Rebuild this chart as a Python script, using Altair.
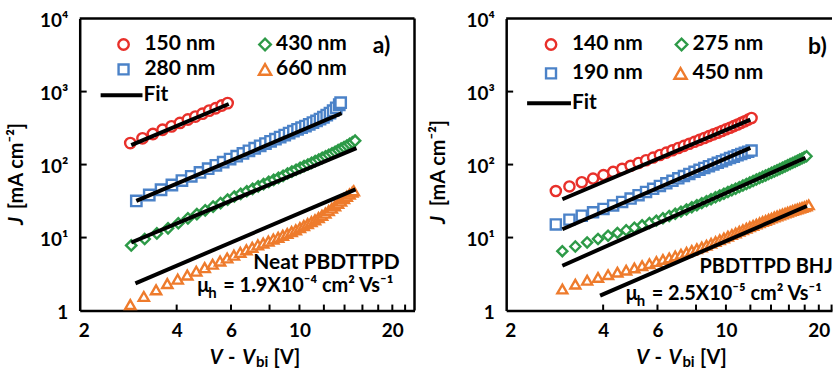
import altair as alt
import pandas as pd

FONT = "Lato"
INK = "#000000"

# ---------------- panel a: neat PBDTTPD ----------------
A_LABELS = ["150 nm", "280 nm", "430 nm", "660 nm"]

A150_V = [2.83, 3.10, 3.35, 3.60, 3.85, 4.10, 4.35, 4.60, 4.85, 5.10, 5.35, 5.60, 5.85]
A150_J = [197, 229, 262, 300, 334, 372, 415, 455, 498, 548, 592, 645, 695]

A280_V = [2.96, 3.26, 3.56, 3.86, 4.16, 4.46, 4.76, 5.06, 5.36, 5.66, 5.96, 6.26, 6.56,
          6.86, 7.16, 7.46, 7.76, 8.06, 8.36, 8.66, 8.96, 9.26, 9.56, 9.86, 10.16, 10.46,
          10.76, 11.06, 11.36, 11.66, 11.96, 12.26, 12.56, 12.86, 13.16, 13.46, 13.6]
A280_J = [31.8, 38.3, 45.2, 52.5, 60.4, 69.0, 78.1, 87.7, 97.7, 108, 119, 130.5, 142.3,
          154.6, 167.4, 180.7, 194, 208, 223, 238, 254, 270, 287, 304, 320, 337,
          356, 376, 397, 420, 445, 476, 508, 548, 599, 660, 704]

A430_V = [2.85, 3.15, 3.45, 3.75, 4.05, 4.35, 4.65, 4.95, 5.25, 5.55, 5.85, 6.15, 6.45,
          6.75, 7.05, 7.35, 7.65, 7.95, 8.25, 8.55, 8.85, 9.15, 9.45, 9.75, 10.05, 10.35,
          10.65, 10.95, 11.25, 11.55, 11.85, 12.15, 12.45, 12.75, 13.05, 13.35, 13.65,
          13.95, 14.25, 14.55, 14.85, 15.15]
A430_J = [7.8, 9.55, 11.4, 13.4, 15.7, 18.3, 20.9, 23.6, 26.5, 29.7, 33.0, 36.5, 39.7,
          43.1, 46.6, 50.2, 54.0, 57.9, 61.8, 65.9, 70.1, 75.5, 80.2, 85.0, 90.0, 95.1,
          100.3, 105.7, 111.2, 117.1, 123.2, 129.4, 135.9, 142.8, 149.9, 157.3, 165.1,
          173.3, 182.2, 191.7, 201.7, 212.4]

A660_V = [2.83, 3.13, 3.43, 3.73, 4.03, 4.33, 4.63, 4.93, 5.23, 5.53, 5.83, 6.13, 6.43,
          6.73, 7.03, 7.33, 7.63, 7.93, 8.23, 8.53, 8.83, 9.13, 9.43, 9.73, 10.03, 10.33,
          10.63, 10.93, 11.23, 11.53, 11.83, 12.13, 12.43, 12.73, 13.03, 13.33, 13.63,
          13.93, 14.23, 14.53, 14.83, 15.0]
A660_J = [1.21, 1.56, 1.92, 2.34, 2.69, 3.07, 3.46, 3.87, 4.31, 4.77, 5.25, 5.74, 6.26,
          6.80, 7.35, 7.93, 8.42, 8.93, 9.55, 10.07, 10.72, 11.38, 12.07, 12.77, 13.65,
          14.56, 15.51, 16.50, 17.52, 18.80, 20.16, 21.58, 23.35, 25.23, 27.23, 29.37,
          31.65, 34.08, 36.66, 39.40, 41.84, 43.7]

# SCLC fits (end points of each power-law line)
A_FIT_V = [[2.85, 5.9], [2.96, 13.7], [2.85, 15.3], [2.94, 15.2]]
A_FIT_J = [[185, 676], [31.8, 505], [8.55, 168], [2.36, 45.8]]

# ---------------- panel b: PBDTTPD BHJ ----------------
B_LABELS = ["140 nm", "190 nm", "275 nm", "450 nm"]

B140_V = [2.81, 3.11, 3.41, 3.71, 4.01, 4.31, 4.61, 4.91, 5.21, 5.51, 5.81, 6.11, 6.41,
          6.71, 7.01, 7.31, 7.61, 7.91, 8.21, 8.51, 8.81, 9.11, 9.41, 9.71, 10.01, 10.31,
          10.61, 10.91, 11.21, 11.51, 11.81, 12.11]
B140_J = [43.4, 50.2, 57.3, 64.3, 71.7, 79.4, 87.5, 96.2, 105.2, 114.7, 124.7, 135.3,
          145.9, 157.0, 168.7, 180.5, 192.7, 205.0, 218.2, 231.7, 245.3, 259.2, 273.4,
          288.5, 304.0, 319.8, 336.6, 353.8, 372.3, 392.0, 412.6, 434.5]

B190_V = [2.81, 3.11, 3.41, 3.71, 4.01, 4.31, 4.61, 4.91, 5.21, 5.51, 5.81, 6.11, 6.41,
          6.71, 7.01, 7.31, 7.61, 7.91, 8.21, 8.51, 8.81, 9.11, 9.41, 9.71, 10.01, 10.31,
          10.61, 10.91, 11.21, 11.51, 11.81, 12.11]
B190_J = [15.15, 17.61, 19.92, 22.19, 24.71, 27.56, 30.81, 34.17, 38.10, 42.21, 46.53,
          51.02, 55.41, 59.98, 64.71, 69.54, 74.49, 79.59, 84.79, 90.0, 95.2, 100.5,
          105.9, 111.4, 116.9, 122.6, 128.3, 133.7, 139.3, 144.8, 150.2, 155.4]

B275_V = [2.95, 3.25, 3.55, 3.85, 4.15, 4.45, 4.75, 5.05, 5.35, 5.65, 5.95, 6.25, 6.55,
          6.85, 7.15, 7.45, 7.75, 8.05, 8.35, 8.65, 8.95, 9.25, 9.55, 9.85, 10.15, 10.45,
          10.75, 11.05, 11.35, 11.65, 11.95, 12.25, 12.55, 12.85, 13.15, 13.45, 13.75,
          14.05, 14.35, 14.65, 14.95, 15.25, 15.55, 15.85, 16.15, 16.45, 16.75, 17.05,
          17.35, 17.65, 17.95, 18.25]
B275_J = [6.51, 7.55, 8.57, 9.57, 10.60, 11.59, 12.60, 13.62, 14.71, 15.84, 17.06, 18.38,
          19.74, 21.18, 22.69, 24.29, 25.98, 27.77, 29.61, 31.57, 33.57, 35.63, 37.76,
          39.92, 42.14, 44.40, 46.71, 49.09, 51.62, 54.20, 56.87, 59.57, 62.33, 65.16,
          68.04, 70.99, 74.0, 77.08, 80.4, 83.7, 87.2, 90.7, 94.3, 98.0, 101.7, 105.6,
          109.4, 113.4, 117.5, 121.6, 125.8, 130.1]

B450_V = [2.95, 3.25, 3.55, 3.85, 4.15, 4.45, 4.75, 5.05, 5.35, 5.65, 5.95, 6.25, 6.55,
          6.85, 7.15, 7.45, 7.75, 8.05, 8.35, 8.65, 8.95, 9.25, 9.55, 9.85, 10.15, 10.45,
          10.75, 11.05, 11.35, 11.65, 11.95, 12.25, 12.55, 12.85, 13.15, 13.45, 13.75,
          14.05, 14.35, 14.65, 14.95, 15.25, 15.55, 15.85, 16.15, 16.45, 16.75, 17.05,
          17.35, 17.65, 17.95, 18.25, 18.55]
B450_J = [1.97, 2.30, 2.60, 2.84, 3.10, 3.35, 3.58, 3.83, 4.11, 4.39, 4.69, 5.01, 5.27,
          5.59, 5.92, 6.28, 6.65, 7.03, 7.43, 7.87, 8.34, 8.82, 9.33, 9.87, 10.43, 11.0,
          11.59, 12.19, 12.81, 13.43, 14.05, 14.66, 15.29, 15.93, 16.58, 17.20, 17.83,
          18.47, 19.11, 19.75, 20.35, 21.02, 21.63, 22.25, 22.87, 23.49, 24.11, 24.68,
          25.25, 25.81, 26.38, 27.01, 28.07]

B_FIT_V = [[2.95, 12.0], [2.95, 12.0], [2.95, 18.1], [3.91, 18.3]]
B_FIT_J = [[33.5, 414], [13.0, 169], [4.11, 124], [1.60, 27.1]]

# ---------------- axes ----------------
X_LABEL_VALUES = [2, 4, 6, 10, 20]
X_INNER_TICKS = [4, 6, 8, 10, 12, 14, 16, 18, 20, 22]
Y_TICKS = [1, 10, 100, 1000, 10000]
Y_TICK_TEXT = ["1", "10\u00b9", "10\u00b2", "10\u00b3", "10\u2074"]
Y_INNER_TICKS = [10, 100, 1000]

COLORS = ["#E8302A", "#4B82C8", "#2D9A47", "#EE7B2C"]
SHAPES = ["circle", "square", "diamond", "triangle-up"]
SIZES = [110, 100, 135, 150]

H = 293
Y_DOMAIN = [1, 10000]
ONE = pd.DataFrame({"k": [0]})

y_label_expr = " : ".join(
    f"datum.value == {v} ? '{t}'" for v, t in zip(Y_TICKS[:-1], Y_TICK_TEXT[:-1])
) + f" : '{Y_TICK_TEXT[-1]}'"


def text(s, x, y, size=20, italic=False, align="left", angle=None, clip=False,
         baseline="alphabetic"):
    props = dict(text=s, font=FONT, fontSize=size, fontWeight="bold", color=INK,
                 align=align, baseline=baseline)
    if italic:
        props["fontStyle"] = "italic"
    if angle is not None:
        props["angle"] = angle
    if clip:
        props["clip"] = True
    return alt.Chart(ONE).mark_text(**props).encode(x=alt.value(x), y=alt.value(y))


def series_frame(labels, vs, js):
    rows = []
    for lab, v, j in zip(labels, vs, js):
        rows += [{"V": a, "J": b, "s": lab} for a, b in zip(v, j)]
    return pd.DataFrame(rows)


def fit_frame(fv, fj):
    rows = []
    for i, (v, j) in enumerate(zip(fv, fj)):
        rows += [{"V": a, "J": b, "k": i} for a, b in zip(v, j)]
    return pd.DataFrame(rows)


def panel(labels, vs, js, fv, fj, width, xdom, cfg):
    xs = alt.Scale(type="log", domain=xdom, nice=False)
    ys = alt.Scale(type="log", domain=Y_DOMAIN, nice=False)
    x_axis = alt.Axis(values=X_LABEL_VALUES, format="~g", title=None, grid=False,
                      ticks=False, domainColor=INK, domainWidth=2.5, labelFont=FONT,
                      labelFontSize=19, labelFontWeight="bold", labelColor=INK,
                      labelPadding=11, labelFlush=False, labelOverlap=False)
    y_axis = alt.Axis(values=Y_TICKS, labelExpr=y_label_expr, title=None, grid=False,
                      ticks=False, domainColor=INK, domainWidth=2.5, labelFont=FONT,
                      labelFontSize=19, labelFontWeight="bold", labelColor=INK,
                      labelPadding=12, labelFlush=False, labelOverlap=False,
                      labelOffset=2)

    points = alt.Chart(series_frame(labels, vs, js)).mark_point(
        filled=True, opacity=1, strokeWidth=2.4
    ).encode(
        x=alt.X("V:Q", scale=xs, axis=x_axis),
        y=alt.Y("J:Q", scale=ys, axis=y_axis),
        stroke=alt.Stroke("s:N", scale=alt.Scale(domain=labels, range=COLORS), legend=None),
        fill=alt.value("white"),
        shape=alt.Shape("s:N", scale=alt.Scale(domain=labels, range=SHAPES), legend=None),
        size=alt.Size("s:O", scale=alt.Scale(domain=labels, range=SIZES), legend=None),
    )

    fits = alt.Chart(fit_frame(fv, fj)).mark_line(color=INK, strokeWidth=4).encode(
        x=alt.X("V:Q", scale=xs, axis=x_axis),
        y=alt.Y("J:Q", scale=ys, axis=y_axis),
        detail="k:N",
    )

    # inward tick marks along the bottom and left edges
    xticks = alt.Chart(pd.DataFrame({"V": X_INNER_TICKS})).mark_rule(
        color=INK, strokeWidth=2
    ).encode(x=alt.X("V:Q", scale=xs, axis=x_axis), y=alt.value(H), y2=alt.value(H - 6))
    yticks = alt.Chart(pd.DataFrame({"J": Y_INNER_TICKS})).mark_rule(
        color=INK, strokeWidth=2
    ).encode(y=alt.Y("J:Q", scale=ys, axis=y_axis), x=alt.value(0), x2=alt.value(7))

    top = alt.Chart(ONE).mark_rule(color=INK, strokeWidth=2.5).encode(
        x=alt.value(0), x2=alt.value(width), y=alt.value(0))
    layers = [points, fits, xticks, yticks, top]
    if cfg["right_frame"]:
        layers.append(alt.Chart(ONE).mark_rule(color=INK, strokeWidth=2.5).encode(
            x=alt.value(width), y=alt.value(0), y2=alt.value(H)))

    # legend block
    lg = cfg["legend"]
    for i, lab in enumerate(labels):
        mx, my = lg["marks"][i]
        layers.append(alt.Chart(ONE).mark_point(
            shape=SHAPES[i], filled=True, fill="white", stroke=COLORS[i],
            strokeWidth=2.4, size=SIZES[i], opacity=1
        ).encode(x=alt.value(mx), y=alt.value(my)))
        tx = lg["text_x"][0 if i < 2 else 1]
        layers.append(text(lab, tx, my, size=21, baseline="middle"))
    fx1, fx2, fy = lg["fit"]
    layers.append(alt.Chart(ONE).mark_rule(color=INK, strokeWidth=4).encode(
        x=alt.value(fx1), x2=alt.value(fx2), y=alt.value(fy)))
    layers.append(text("Fit", fx2 + 1, fy, size=21, baseline="middle"))

    # panel tag and sample notes
    clip = cfg["clip"]
    tag, tx, ty = cfg["tag"]
    layers.append(text(tag, tx, ty, size=23, clip=clip))
    note, nx, ny, nalign, nsize = cfg["note"]
    layers.append(text(note, nx, ny, size=nsize, align=nalign, clip=clip))
    base = cfg["mu_base"]
    mx0 = cfg["mu_x"]
    layers.append(text("\u03bc", mx0, base, size=20, clip=clip))
    layers.append(text("h", mx0 + 11, base + 6, size=15, clip=clip))
    layers.append(text(cfg["mu_value"], mx0 + 26, base, size=20, clip=clip))

    # axis titles
    yx, yj, yrest = cfg["ytitle"]
    layers.append(text("J", yx, yj, size=20, italic=True, align="center", angle=270))
    layers.append(text("[mA cm\u207b\u00b2]", yx, yrest, size=20, align="center", angle=270))
    xb = cfg["xtitle_base"]
    for s, x, dy, size, it in [("V", 137, 0, 20, True), ("-", 152.5, 0, 20, False),
                               ("V", 169.5, 0, 20, True), ("bi", 183, 3, 15, False),
                               ("[V]", 208, 0, 20, False)]:
        layers.append(text(s, x, xb + dy, size=size, italic=it, align="center"))

    if cfg.get("anchor"):
        ax, ay = cfg["anchor"]
        layers.append(alt.Chart(ONE).mark_point(opacity=0, size=1).encode(
            x=alt.value(ax), y=alt.value(ay)))

    return alt.layer(*layers).properties(width=width, height=H)


cfg_a = {
    "right_frame": True,
    "clip": False,
    "legend": {"marks": [(44, 26), (44, 51), (186, 26), (186, 51)],
               "text_x": [65, 197], "fit": (21, 63, 77)},
    "tag": ("a)", 294, 35),
    "note": ("Neat PBDTTPD", 321, 251, "right", 21),
    "mu_base": 274,
    "mu_x": 118,
    "mu_value": "= 1.9X10\u207b\u2074 cm\u00b2 Vs\u207b\u00b9",
    "ytitle": (-57, 203, 148),
    "xtitle_base": 347,
    "anchor": (-79, -17),
}

cfg_b = {
    "right_frame": False,
    "clip": True,
    "legend": {"marks": [(45, 26), (45, 55), (176, 26), (175, 55)],
               "text_x": [66, 187], "fit": (21, 65, 85)},
    "tag": ("b)", 303, 36),
    "note": ("PBDTTPD BHJ", 194, 255, "left", 20),
    "mu_base": 282,
    "mu_x": 120,
    "mu_value": "= 2.5X10\u207b\u2075 cm\u00b2 Vs\u207b\u00b9",
    "ytitle": (-61, 202, 145),
    "xtitle_base": 347,
}

panel_a = panel(A_LABELS, [A150_V, A280_V, A430_V, A660_V],
                [A150_J, A280_J, A430_J, A660_J], A_FIT_V, A_FIT_J,
                336, [1.94, 23.6], cfg_a)
panel_b = panel(B_LABELS, [B140_V, B190_V, B275_V, B450_V],
                [B140_J, B190_J, B275_J, B450_J], B_FIT_V, B_FIT_J,
                327, [1.94, 22.07], cfg_b)

chart = alt.hconcat(panel_a, panel_b, spacing=92, bounds="flush").properties(
    padding=0, background="white"
).configure_view(stroke=None)

chart.save("out.html", embed_options={"renderer": "svg", "actions": False})
